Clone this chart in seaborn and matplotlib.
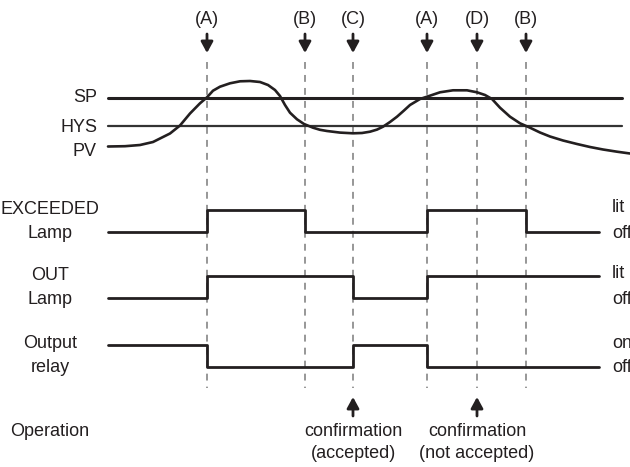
import matplotlib
matplotlib.use("Agg")
import matplotlib.pyplot as plt
import seaborn as sns
import pandas as pd

# event times (x) and their labels
event_x = [207, 305, 353, 427, 477, 526]
event_labels = ['(A)', '(B)', '(C)', '(A)', '(D)', '(B)']

# process value curve
pv_x = [108, 125, 140, 153, 160, 170, 180, 190, 200, 207, 213, 220, 230, 240,
        250, 260, 268, 275, 280, 285, 290, 297, 304, 313, 320, 327, 340, 353,
        362, 370, 377, 383, 390, 397, 404, 410, 420, 427, 440, 453, 467, 477,
        485, 492, 500, 510, 520, 530, 540, 550, 563, 577, 590, 603, 617, 630]
pv_y = [146.5, 146.2, 145, 142, 138.5, 133.5, 125.5, 113.5, 103.3, 97.3, 90.7,
        86.7, 83.3, 81.3, 81, 82, 85, 90, 96, 105, 112.7, 119.3, 124, 127.7,
        129.8, 131, 132.6, 133.3, 133, 131.7, 129.6, 126.7, 122, 116.7, 110.5,
        105, 99, 96.7, 92.3, 90.3, 90.3, 92.3, 95, 99, 107.7, 116.7, 123.3,
        127.7, 132.5, 136.5, 140.5, 144, 147, 149.5, 151.7, 153.5]

sp_y = 98
hys_y = 126
line_x = [108, 622]

# digital signals: transition times and states (1 = high)
exceeded_t = [108, 207, 305, 427, 526, 599]
exceeded_s = [0, 1, 0, 1, 0, 0]
out_t = [108, 207, 353, 427, 599]
out_s = [0, 1, 0, 1, 1]
relay_t = [108, 207, 353, 427, 599]
relay_s = [1, 0, 1, 0, 0]

confirm_x = [353, 477]
confirm_top = ['confirmation', 'confirmation']
confirm_bottom = ['(accepted)', '(not accepted)']

sns.set_theme(style="white")
plt.rcParams['font.family'] = ['Liberation Sans', 'DejaVu Sans']

fig = plt.figure(figsize=(6.3, 4.67), dpi=100)
ax = fig.add_axes([0, 0, 1, 1])
ax.set_xlim(0, 630)
ax.set_ylim(467, 0)
ax.axis('off')

ink = '#231f20'
fs = 13

arrow = dict(arrowstyle='-|>,head_length=0.55,head_width=0.3',
             color=ink, lw=2, shrinkA=0, shrinkB=0)

# dashed event lines and arrows
for x, lab in zip(event_x, event_labels):
    ax.plot([x, x], [62, 388], color='#7a7a7a', lw=1.1, dashes=(4.5, 4))
    ax.annotate('', xy=(x, 53), xytext=(x, 34), arrowprops=arrow)
    ax.text(x, 20, lab, ha='center', va='center', fontsize=fs, color=ink)

# SP / HYS / PV
sns.lineplot(x=line_x, y=[sp_y, sp_y], ax=ax, color=ink, lw=2.2)
sns.lineplot(x=line_x, y=[hys_y, hys_y], ax=ax, color='#333333', lw=1.6)
pv = pd.DataFrame({'t': pv_x, 'v': pv_y})
sns.lineplot(data=pv, x='t', y='v', ax=ax, color=ink, lw=1.9, sort=False)
ax.text(97, 98, 'SP', ha='right', va='center', fontsize=fs, color=ink)
ax.text(97, 127, 'HYS', ha='right', va='center', fontsize=fs, color=ink)
ax.text(97, 151, 'PV', ha='right', va='center', fontsize=fs, color=ink)

# digital rows: (times, states, high y, low y, left label, right labels)
rows = [
    (exceeded_t, exceeded_s, 210, 232, ('EXCEEDED', 'Lamp'), ('lit', 'off')),
    (out_t, out_s, 276, 298, ('OUT', 'Lamp'), ('lit', 'off')),
    (relay_t, relay_s, 345, 367, ('Output', 'relay'), ('on', 'off')),
]
for t, s, hi, lo, (l1, l2), (top, bot) in rows:
    ys = [hi if v else lo for v in s]
    sns.lineplot(x=t, y=ys, ax=ax, color=ink, lw=2, drawstyle='steps-post')
    ax.text(50, hi - 1, l1, ha='center', va='center', fontsize=fs, color=ink)
    ax.text(50, lo + 1, l2, ha='center', va='center', fontsize=fs, color=ink)
    ax.text(612, hi - 2, top, ha='left', va='center', fontsize=fs, color=ink)
    ax.text(612, lo + 1, bot, ha='left', va='center', fontsize=fs, color=ink)

# operation row
ax.text(50, 432, 'Operation', ha='center', va='center', fontsize=fs, color=ink)
for x, l1, l2 in zip(confirm_x, confirm_top, confirm_bottom):
    ax.annotate('', xy=(x, 397), xytext=(x, 416), arrowprops=arrow)
    ax.text(x, 431, l1, ha='center', va='center', fontsize=fs, color=ink)
    ax.text(x, 453, l2, ha='center', va='center', fontsize=fs, color=ink)

fig.savefig('out.png', dpi=100)
